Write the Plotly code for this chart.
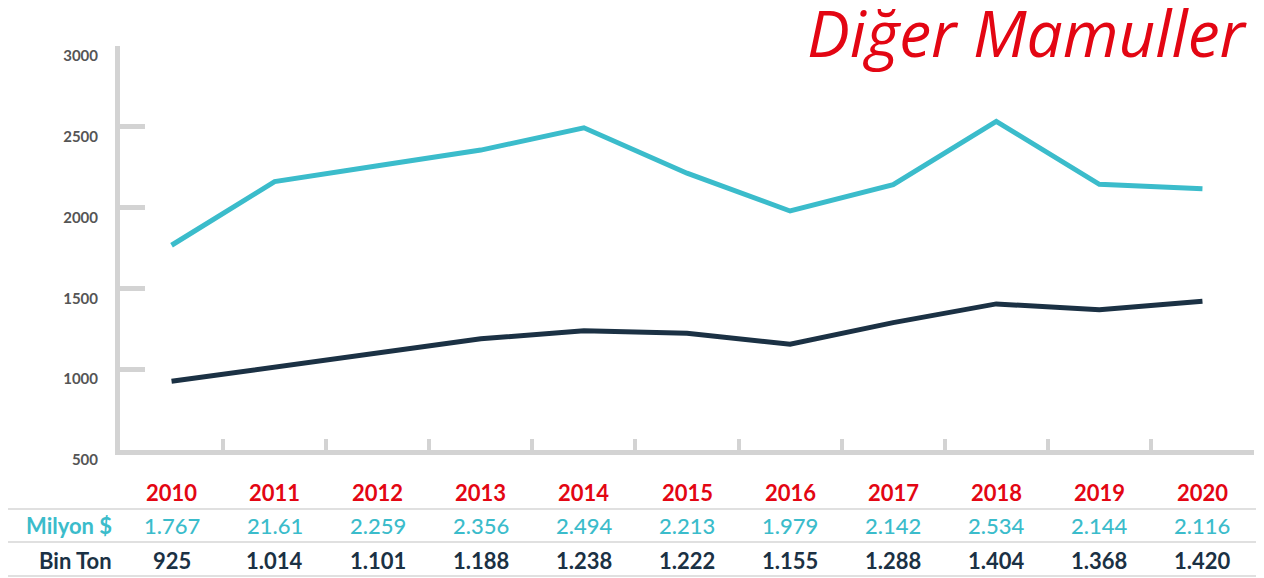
import plotly.graph_objects as go

years = ["2010", "2011", "2012", "2013", "2014", "2015", "2016", "2017", "2018", "2019", "2020"]
milyon_usd = [1767, 2161, 2259, 2356, 2494, 2213, 1979, 2142, 2534, 2144, 2116]
milyon_labels = ["1.767", "21.61", "2.259", "2.356", "2.494", "2.213", "1.979", "2.142", "2.534", "2.144", "2.116"]
bin_ton = [925, 1014, 1101, 1188, 1238, 1222, 1155, 1288, 1404, 1368, 1420]
bin_ton_labels = ["925", "1.014", "1.101", "1.188", "1.238", "1.222", "1.155", "1.288", "1.404", "1.368", "1.420"]
y_ticks = [500, 1000, 1500, 2000, 2500, 3000]

TEAL = "#3bbccb"
NAVY = "#1b3144"
RED = "#e30613"
GRAY = "#d3d3d3"

# page offset from default body margin
OFF = 8
W, H = 1264 - OFF, 578 - OFF
# plot area in page pixels
P_LEFT, P_RIGHT, P_TOP, P_BOTTOM = 120, 1254, 46, 450
L = P_LEFT - OFF
R = (W + OFF) - P_RIGHT
T = P_TOP - OFF
B = (H + OFF) - P_BOTTOM
PH = P_BOTTOM - P_TOP
PW = P_RIGHT - P_LEFT


def py(pix):
    return (P_BOTTOM - pix) / PH


def px(pix):
    return (pix - P_LEFT) / PW


fig = go.Figure()
fig.add_trace(go.Scatter(x=years, y=milyon_usd, mode="lines",
                         line=dict(color=TEAL, width=5), hoverinfo="skip", showlegend=False))
fig.add_trace(go.Scatter(x=years, y=bin_ton, mode="lines",
                         line=dict(color=NAVY, width=5), hoverinfo="skip", showlegend=False))

annotations = []
FONT = "Lato"
rows = [
    (492, years, RED, 700, None, None),
    (525, milyon_labels, TEAL, 500, "Milyon $", TEAL),
    (560, bin_ton_labels, NAVY, 700, "Bin Ton", NAVY),
]
for ypix, labels, color, weight, rowname, rowcolor in rows:
    for i, lab in enumerate(labels):
        annotations.append(dict(x=i, xref="x", y=py(ypix), yref="paper", text=lab,
                                showarrow=False, xanchor="center", yanchor="middle",
                                font=dict(family=FONT, size=22, color=color, weight=weight)))
    if rowname:
        annotations.append(dict(x=px(114), xref="paper", y=py(ypix), yref="paper", text=rowname,
                                showarrow=False, xanchor="right", yanchor="middle",
                                font=dict(family=FONT, size=22, color=rowcolor, weight=700)))

annotations.append(dict(x=px(1250), xref="paper", y=py(33), yref="paper", text="Diğer Mamuller",
                        showarrow=False, xanchor="right", yanchor="middle",
                        font=dict(family="Open Sans", size=64, color=RED, style="italic")))

shapes = []
for ypix in [509, 542, 576]:
    shapes.append(dict(type="line", xref="paper", yref="paper", x0=px(OFF), x1=px(1264),
                       y0=py(ypix), y1=py(ypix), line=dict(color="#d6d6d6", width=1.5)))

fig.update_layout(
    width=W, height=H,
    margin=dict(l=L, r=R, t=T, b=B, autoexpand=False),
    paper_bgcolor="white", plot_bgcolor="white",
    annotations=annotations, shapes=shapes,
    xaxis=dict(type="category", categoryorder="array", categoryarray=years,
               range=[-0.5, 10.5], tickson="boundaries", ticks="inside", ticklen=11,
               tickwidth=4, tickcolor=GRAY, showline=True, linewidth=5, linecolor=GRAY,
               showgrid=False, zeroline=False, showticklabels=False, fixedrange=True,
               automargin=False),
    yaxis=dict(range=[500, 3000], tickvals=y_ticks, ticktext=[str(v) for v in y_ticks],
               ticks="inside", ticklen=25, tickwidth=5, tickcolor=GRAY,
               showline=True, linewidth=5, linecolor=GRAY, showgrid=False, zeroline=False,
               tickfont=dict(family=FONT, size=15, color="#555555", weight=700),
               ticklabelshift=10, ticklabelstandoff=14, fixedrange=True, automargin=False),
)

fig.write_html("out.html")
